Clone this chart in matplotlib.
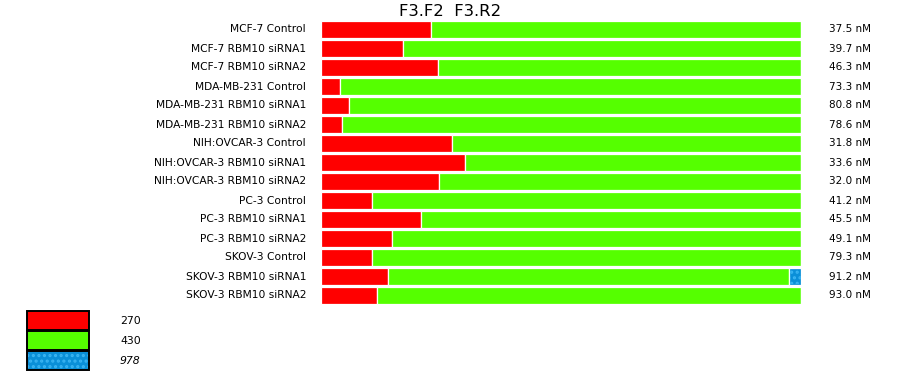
import matplotlib
matplotlib.use("Agg")
import matplotlib.pyplot as plt
from matplotlib.patches import Rectangle
import numpy as np

samples = ["MCF-7 Control", "MCF-7 RBM10 siRNA1", "MCF-7 RBM10 siRNA2",
           "MDA-MB-231 Control", "MDA-MB-231 RBM10 siRNA1", "MDA-MB-231 RBM10 siRNA2",
           "NIH:OVCAR-3 Control", "NIH:OVCAR-3 RBM10 siRNA1", "NIH:OVCAR-3 RBM10 siRNA2",
           "PC-3 Control", "PC-3 RBM10 siRNA1", "PC-3 RBM10 siRNA2",
           "SKOV-3 Control", "SKOV-3 RBM10 siRNA1", "SKOV-3 RBM10 siRNA2"]

# percent of each row taken by each product size
pct_270 = [22.9, 17.1, 24.4, 4.0, 5.8, 4.4, 27.3, 30.0, 24.6, 10.6, 20.8, 14.8, 10.6, 14.0, 11.7]
pct_978 = [0, 0, 0, 0, 0, 0, 0, 0, 0, 0, 0, 0, 0, 2.5, 0]
pct_430 = [100 - a - b for a, b in zip(pct_270, pct_978)]

totals = ["37.5 nM", "39.7 nM", "46.3 nM", "73.3 nM", "80.8 nM", "78.6 nM", "31.8 nM",
          "33.6 nM", "32.0 nM", "41.2 nM", "45.5 nM", "49.1 nM", "79.3 nM", "91.2 nM", "93.0 nM"]

sizes = ["270", "430", "978"]
red = "#ff0000"
green = "#55ff00"
blue = "#0a8fd8"
dots = "#3ab4f2"

plt.rcParams["hatch.linewidth"] = 1.5

fig = plt.figure(figsize=(9, 3.75), dpi=100)
ax = fig.add_axes([321/900, (375-305)/375, 480/900, 285/375])

y = np.arange(len(samples))
h = 17/19
left = np.zeros(len(samples))
for vals, col in [(pct_270, red), (pct_430, green), (pct_978, blue)]:
    vals = np.array(vals)
    ax.barh(y, vals, height=h, left=left, color=col, edgecolor="white", linewidth=0.9)
    if col == blue:
        ax.barh(y, vals, height=h - 0.06, left=left + 0.25, color="none",
                edgecolor=dots, hatch="...", linewidth=0)
    left = left + vals

ax.set_xlim(0, 100)
ax.set_ylim(len(samples) - 0.5, -0.5)
ax.axis("off")

for i, s in enumerate(samples):
    ax.annotate(s, xy=(0, i), xytext=(-15, 0), textcoords="offset pixels",
                ha="right", va="center", fontsize=7.7)
    ax.annotate(totals[i], xy=(100, i), xytext=(28, 0), textcoords="offset pixels",
                ha="left", va="center", fontsize=7.5)

fig.text(0.5, 1 - 11/375, "F3.F2  F3.R2", ha="center", va="center", fontsize=11.8)

# legend boxes
leg_cols = [red, green, blue]
for k, (lab, col) in enumerate(zip(sizes, leg_cols)):
    top = 311 + k * 20
    r = Rectangle((27/900, 1 - (top + 19)/375), 62/900, 19/375, transform=fig.transFigure,
                  facecolor=col, edgecolor="black", linewidth=1.4)
    fig.add_artist(r)
    if col == blue:
        r2 = Rectangle((28/900, 1 - (top + 18)/375), 60/900, 17/375, transform=fig.transFigure,
                       facecolor="none", edgecolor=dots, hatch="...", linewidth=0)
        fig.add_artist(r2)
    fig.text(120/900, 1 - (top + 10)/375, lab, ha="left", va="center", fontsize=7.8,
             style="italic" if k == 2 else "normal")

fig.savefig("out.png", dpi=100)
